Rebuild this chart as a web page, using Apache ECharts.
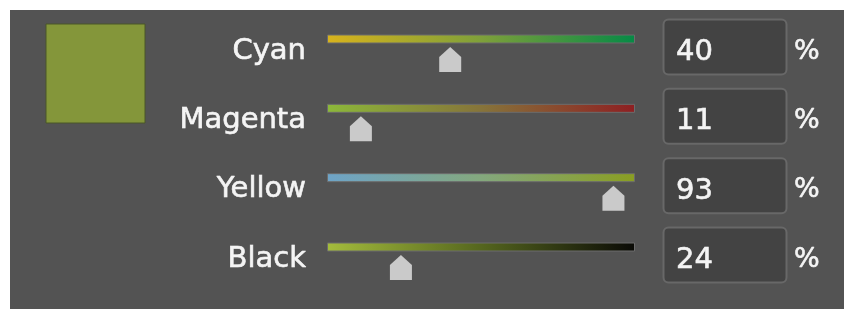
<!DOCTYPE html>
<html>
<head>
<meta charset="utf-8">
<script src="https://cdn.jsdelivr.net/npm/echarts@6/dist/echarts.min.js"></script>
<style>
  html, body { margin: 0; padding: 0; background: #ffffff; }
  #cmykChart { width: 844px; height: 309px; }
</style>
</head>
<body>
<div id="cmykChart"></div>
<script>
// channel names and slider values (percent)
const channels = ['Cyan', 'Magenta', 'Yellow', 'Black']
const values = [40, 11, 93, 24]
const trackMax = [100, 100, 100, 100]

// gradient stops for each slider track
const trackColors = [
  ['#d8b31c', '#7fa03a', '#068a46'],
  ['#8cb83a', '#86743a', '#8e1f22'],
  ['#6ea4c8', '#84a87e', '#8a9e22'],
  ['#a4bc3c', '#55661e', '#0a0a06']
]

const font = 'DejaVu Sans, Verdana, sans-serif'
const textColor = '#f4f4f4'
const thumbPath = 'path://M11,0 L22,10 L22,25 L0,25 L0,10 Z'

const initCmykChart = () => {
  const chart = echarts.init(document.getElementById('cmykChart'))
  const option = {
    backgroundColor: '#ffffff',
    animation: false,
    graphic: [
      {
        type: 'rect',
        z: -10,
        shape: { x: 10, y: 10, width: 834, height: 299 },
        style: { fill: '#535353' }
      },
      {
        // current colour swatch
        type: 'rect',
        shape: { x: 46, y: 24, width: 99, height: 99 },
        style: { fill: '#84963a', stroke: '#4b5628', lineWidth: 1 }
      }
    ],
    grid: {
      left: 327,
      right: 209,
      top: 4.33,
      bottom: 27.33
    },
    xAxis: {
      type: 'value',
      min: 0,
      max: 100,
      show: false
    },
    yAxis: {
      type: 'category',
      inverse: true,
      data: channels,
      axisLine: { show: false },
      axisTick: { show: false },
      splitLine: { show: false },
      axisLabel: {
        margin: 21,
        color: textColor,
        fontFamily: font,
        fontSize: 29,
        textBorderColor: textColor,
        textBorderWidth: 0.6,
        verticalAlign: 'top',
        lineHeight: 24
      }
    },
    series: [
      {
        name: 'track',
        type: 'bar',
        barWidth: 9,
        silent: true,
        data: trackMax.map((v, i) => ({
          value: v,
          itemStyle: {
            borderColor: '#6c6c6c',
            borderWidth: 1,
            color: new echarts.graphic.LinearGradient(0, 0, 1, 0, [
              { offset: 0, color: trackColors[i][0] },
              { offset: 0.5, color: trackColors[i][1] },
              { offset: 1, color: trackColors[i][2] }
            ])
          }
        }))
      },
      {
        name: 'thumb',
        type: 'scatter',
        symbol: thumbPath,
        symbolSize: [22, 25],
        symbolOffset: [0, 20.5],
        itemStyle: { color: '#cacaca', opacity: 1 },
        z: 5,
        data: values.map((v, i) => [v, i])
      },
      {
        name: 'inputs',
        type: 'custom',
        silent: true,
        data: values.map((v, i) => [v, i]),
        renderItem: function (params, api) {
          const y = api.coord([0, api.value(1)])[1]
          return {
            type: 'group',
            children: [
              {
                type: 'rect',
                shape: { x: 663.5, y: y - 19.5, width: 123, height: 55, r: 5 },
                style: { fill: '#434343', stroke: '#686868', lineWidth: 2 }
              },
              {
                type: 'text',
                style: {
                  text: String(api.value(0)),
                  x: 676,
                  y: y + 13.5,
                  fill: textColor,
                  stroke: textColor,
                  lineWidth: 0.6,
                  font: '29px ' + font,
                  verticalAlign: 'middle',
                  align: 'left'
                }
              },
              {
                type: 'text',
                style: {
                  text: '%',
                  x: 794,
                  y: y + 12.5,
                  fill: textColor,
                  stroke: textColor,
                  lineWidth: 0.6,
                  font: '27px ' + font,
                  verticalAlign: 'middle',
                  align: 'left'
                }
              }
            ]
          }
        }
      }
    ]
  }
  chart.setOption(option)
}

initCmykChart()
</script>
</body>
</html>
